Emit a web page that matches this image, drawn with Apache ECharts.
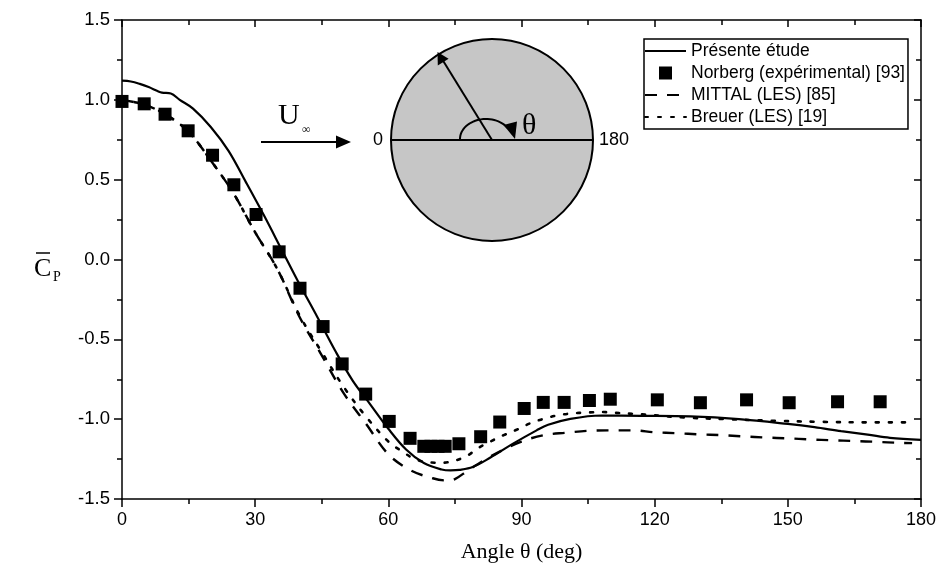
<!DOCTYPE html>
<html>
<head>
<meta charset="utf-8">
<script src="https://cdn.jsdelivr.net/npm/echarts@6/dist/echarts.min.js"></script>
<style>
html,body{margin:0;padding:0;background:#fff;}
#chart{width:941px;height:572px;}
</style>
</head>
<body>
<div id="chart"></div>
<script>
// ---- Data ----
var seriesNames = ['Présente étude', 'Norberg (expérimental) [93]', 'MITTAL (LES) [85]', 'Breuer (LES) [19]'];

var presenteAngle = [0, 2, 4, 6, 8, 9, 11, 13, 16, 20, 24, 28, 32, 36, 40, 44, 48, 52, 56, 60, 64, 68, 72, 74, 76, 79, 83, 88, 93.4, 96, 101, 108, 117, 128, 139, 150, 156, 162, 168, 173, 180];
var presenteCp    = [1.12, 1.115, 1.10, 1.08, 1.055, 1.045, 1.04, 1.0, 0.945, 0.83, 0.68, 0.48, 0.275, 0.06, -0.155, -0.36, -0.57, -0.76, -0.91, -1.06, -1.19, -1.275, -1.315, -1.321, -1.318, -1.30, -1.24, -1.155, -1.07, -1.035, -0.998, -0.977, -0.979, -0.983, -1.0, -1.03, -1.05, -1.075, -1.097, -1.117, -1.13];

var norbergAngle = [0, 5, 9.7, 14.9, 20.4, 25.2, 30.2, 35.4, 40.1, 45.3, 49.6, 54.9, 60.2, 64.9, 68, 69.6, 71.2, 72.8, 75.9, 80.8, 85.1, 90.6, 94.9, 99.6, 105.3, 110, 120.6, 130.3, 140.7, 150.3, 161.2, 170.8];
var norbergCp    = [0.99, 0.975, 0.91, 0.806, 0.653, 0.468, 0.282, 0.048, -0.18, -0.42, -0.654, -0.843, -1.014, -1.12, -1.17, -1.17, -1.17, -1.17, -1.154, -1.11, -1.018, -0.933, -0.895, -0.895, -0.883, -0.875, -0.879, -0.897, -0.879, -0.897, -0.891, -0.891];

var mittalAngle = [0, 5, 10, 15, 20, 25, 30, 35, 40, 45, 50, 55, 60, 65, 70, 73, 75, 78, 82, 86, 90, 95, 100, 105, 110, 115, 120, 125, 130, 135, 140, 145, 150, 155, 160, 165, 170, 175, 178];
var mittalCp    = [1.0, 0.97, 0.905, 0.80, 0.62, 0.42, 0.17, -0.06, -0.36, -0.60, -0.84, -1.03, -1.22, -1.32, -1.37, -1.384, -1.375, -1.32, -1.25, -1.19, -1.14, -1.10, -1.085, -1.073, -1.07, -1.07, -1.082, -1.088, -1.095, -1.10, -1.108, -1.115, -1.12, -1.127, -1.132, -1.137, -1.142, -1.148, -1.15];

var breuerAngle = [0, 5, 10, 15, 20, 25, 30, 35, 40, 45, 50, 55, 60, 63, 66, 69, 72, 75, 78, 80, 83, 86, 89, 92, 95, 98, 101, 105, 108, 111, 117, 127, 136, 147, 158, 168, 177];
var breuerCp    = [1.0, 0.97, 0.905, 0.80, 0.62, 0.42, 0.17, -0.06, -0.35, -0.58, -0.80, -0.985, -1.14, -1.20, -1.25, -1.27, -1.273, -1.26, -1.225, -1.185, -1.14, -1.10, -1.065, -1.025, -0.998, -0.977, -0.965, -0.958, -0.955, -0.96, -0.97, -0.99, -1.0, -1.01, -1.017, -1.02, -1.02];

var xTicks = [0, 30, 60, 90, 120, 150, 180];
var yTicks = [-1.5, -1.0, -0.5, 0.0, 0.5, 1.0, 1.5];

function pairs(xs, ys) { return xs.map(function (x, i) { return [x, ys[i]]; }); }

// ---- Inset decoration helpers ----
function arcPoints(cx, cy, rx, ry, a0, a1, n) {
  var pts = [];
  for (var i = 0; i <= n; i++) {
    var a = (a0 + (a1 - a0) * i / n) * Math.PI / 180;
    pts.push([cx + rx * Math.cos(a), cy - ry * Math.sin(a)]);
  }
  return pts;
}

var sans = "'Liberation Sans', Arial, sans-serif";
var serif = "'Liberation Serif', 'Times New Roman', serif";

var chart = echarts.init(document.getElementById('chart'), null, {renderer: 'canvas'});

var option = {
  backgroundColor: '#ffffff',
  animation: false,
  grid: {left: 122, right: 20, top: 20, bottom: 73},
  legend: {
    orient: 'vertical',
    left: 644,
    top: 39,
    itemWidth: 41,
    itemHeight: 13,
    itemGap: 4,
    padding: [3, 3, 3, 0],
    borderColor: '#000',
    borderWidth: 1.5,
    backgroundColor: '#fff',
    textStyle: {fontFamily: sans, fontSize: 17.5, lineHeight: 18, color: '#000'},
    data: [
      {name: seriesNames[0], itemStyle: {opacity: 0}},
      {name: seriesNames[1], icon: 'path://M0,0L10,0L10,10L0,10Z', itemStyle: {opacity: 1}},
      {name: seriesNames[2], itemStyle: {opacity: 0}},
      {name: seriesNames[3], itemStyle: {opacity: 0}}
    ]
  },
  xAxis: [{
    type: 'value', min: 0, max: 180, interval: 30,
    name: 'Angle θ (deg)', nameLocation: 'middle', nameGap: 42,
    nameTextStyle: {fontFamily: serif, fontSize: 22, color: '#000'},
    axisLine: {show: true, onZero: false, lineStyle: {color: '#000', width: 1.5}},
    axisTick: {show: true, inside: false, length: 8, lineStyle: {color: '#000', width: 1.5}},
    minorTick: {show: true, splitNumber: 2, length: 5, lineStyle: {color: '#000', width: 1.5}},
    axisLabel: {margin: 12, fontFamily: sans, fontSize: 18, color: '#000',
      formatter: function (v) { return xTicks.indexOf(v) >= 0 ? String(v) : ''; }},
    splitLine: {show: false}
  }, {
    type: 'value', min: 0, max: 180, interval: 30, position: 'top',
    axisLine: {show: true, onZero: false, lineStyle: {color: '#000', width: 1.5}},
    axisTick: {show: true, inside: true, length: 7, lineStyle: {color: '#000', width: 1.5}},
    minorTick: {show: true, splitNumber: 2, length: 5, lineStyle: {color: '#000', width: 1.5}},
    axisLabel: {show: false}, splitLine: {show: false}
  }],
  yAxis: [{
    type: 'value', min: -1.5, max: 1.5, interval: 0.5,
    axisLine: {show: true, onZero: false, lineStyle: {color: '#000', width: 1.5}},
    axisTick: {show: true, inside: false, length: 8, lineStyle: {color: '#000', width: 1.5}},
    minorTick: {show: true, splitNumber: 2, length: 5, lineStyle: {color: '#000', width: 1.5}},
    axisLabel: {margin: 12, fontFamily: sans, fontSize: 18.5, color: '#000',
      formatter: function (v) {
        var t = yTicks.filter(function (k) { return Math.abs(k - v) < 1e-9; });
        return t.length ? v.toFixed(1) : '';
      }},
    splitLine: {show: false}
  }, {
    type: 'value', min: -1.5, max: 1.5, interval: 0.5, position: 'right',
    axisLine: {show: true, onZero: false, lineStyle: {color: '#000', width: 1.5}},
    axisTick: {show: true, inside: true, length: 7, lineStyle: {color: '#000', width: 1.5}},
    minorTick: {show: true, splitNumber: 2, length: 5, lineStyle: {color: '#000', width: 1.5}},
    axisLabel: {show: false}, splitLine: {show: false}
  }],
  series: [
    {
      name: seriesNames[0], type: 'line', smooth: 0.35, symbol: 'none',
      data: pairs(presenteAngle, presenteCp),
      lineStyle: {color: '#000', width: 2.2, type: 'solid'},
      itemStyle: {color: '#000'}, z: 4
    },
    {
      name: seriesNames[1], type: 'scatter', symbol: 'rect', symbolSize: 13,
      data: pairs(norbergAngle, norbergCp),
      itemStyle: {color: '#000', opacity: 1}, z: 5
    },
    {
      name: seriesNames[2], type: 'line', smooth: 0.35, symbol: 'none',
      data: pairs(mittalAngle, mittalCp),
      lineStyle: {color: '#000', width: 2.4, type: [12, 10]},
      itemStyle: {color: '#000'}, z: 3
    },
    {
      name: seriesNames[3], type: 'line', smooth: 0.35, symbol: 'none',
      data: pairs(breuerAngle, breuerCp),
      lineStyle: {color: '#000', width: 2.6, type: [3, 10], cap: 'round'},
      itemStyle: {color: '#000'}, z: 3
    }
  ],
  graphic: [
    // y-axis name: C with overbar and subscript P
    {type: 'text', left: 34, top: 256, style: {text: 'C', font: '26px ' + serif, fill: '#000'}},
    {type: 'text', left: 53, top: 270, style: {text: 'P', font: '14px ' + serif, fill: '#000'}},
    {type: 'line', shape: {x1: 36, y1: 253, x2: 50, y2: 253}, style: {stroke: '#000', lineWidth: 1.5}},

    // Inset: cylinder
    {type: 'circle', shape: {cx: 492, cy: 140, r: 101}, style: {fill: '#c6c6c6', stroke: '#000', lineWidth: 2}, z: 10},
    {type: 'line', shape: {x1: 391, y1: 140, x2: 593, y2: 140}, style: {stroke: '#000', lineWidth: 2}, z: 11},
    // radius arrow
    {type: 'line', shape: {x1: 492, y1: 140, x2: 442, y2: 59}, style: {stroke: '#000', lineWidth: 2}, z: 11},
    {type: 'polygon', shape: {points: [[437.5, 52], [437.8, 65.5], [448.6, 58.8]]}, style: {fill: '#000'}, z: 11},
    // theta arc arrow
    {type: 'polyline', shape: {points: arcPoints(486, 139, 26, 20, 180, 32, 30)}, style: {stroke: '#000', lineWidth: 2, fill: null}, z: 11},
    {type: 'polygon', shape: {points: [[503.5, 125], [517, 121.5], [515, 139]]}, style: {fill: '#000'}, z: 11},
    {type: 'text', left: 522, top: 111, style: {text: 'θ', font: '30px ' + serif, fill: '#000'}, z: 11},
    {type: 'text', left: 373, top: 131, style: {text: '0', font: '18px ' + sans, fill: '#000'}, z: 11},
    {type: 'text', left: 599, top: 131, style: {text: '180', font: '18px ' + sans, fill: '#000'}, z: 11},
    // free-stream arrow
    {type: 'text', left: 278, top: 101, style: {text: 'U', font: '30px ' + serif, fill: '#000'}, z: 11},
    {type: 'text', left: 302, top: 124, style: {text: '∞', font: '12px ' + serif, fill: '#000'}, z: 11},
    {type: 'line', shape: {x1: 261, y1: 142, x2: 340, y2: 142}, style: {stroke: '#000', lineWidth: 2}, z: 11},
    {type: 'polygon', shape: {points: [[351, 142], [336, 135.5], [336, 148.5]]}, style: {fill: '#000'}, z: 11}
  ]
};

chart.setOption(option);
</script>
</body>
</html>
